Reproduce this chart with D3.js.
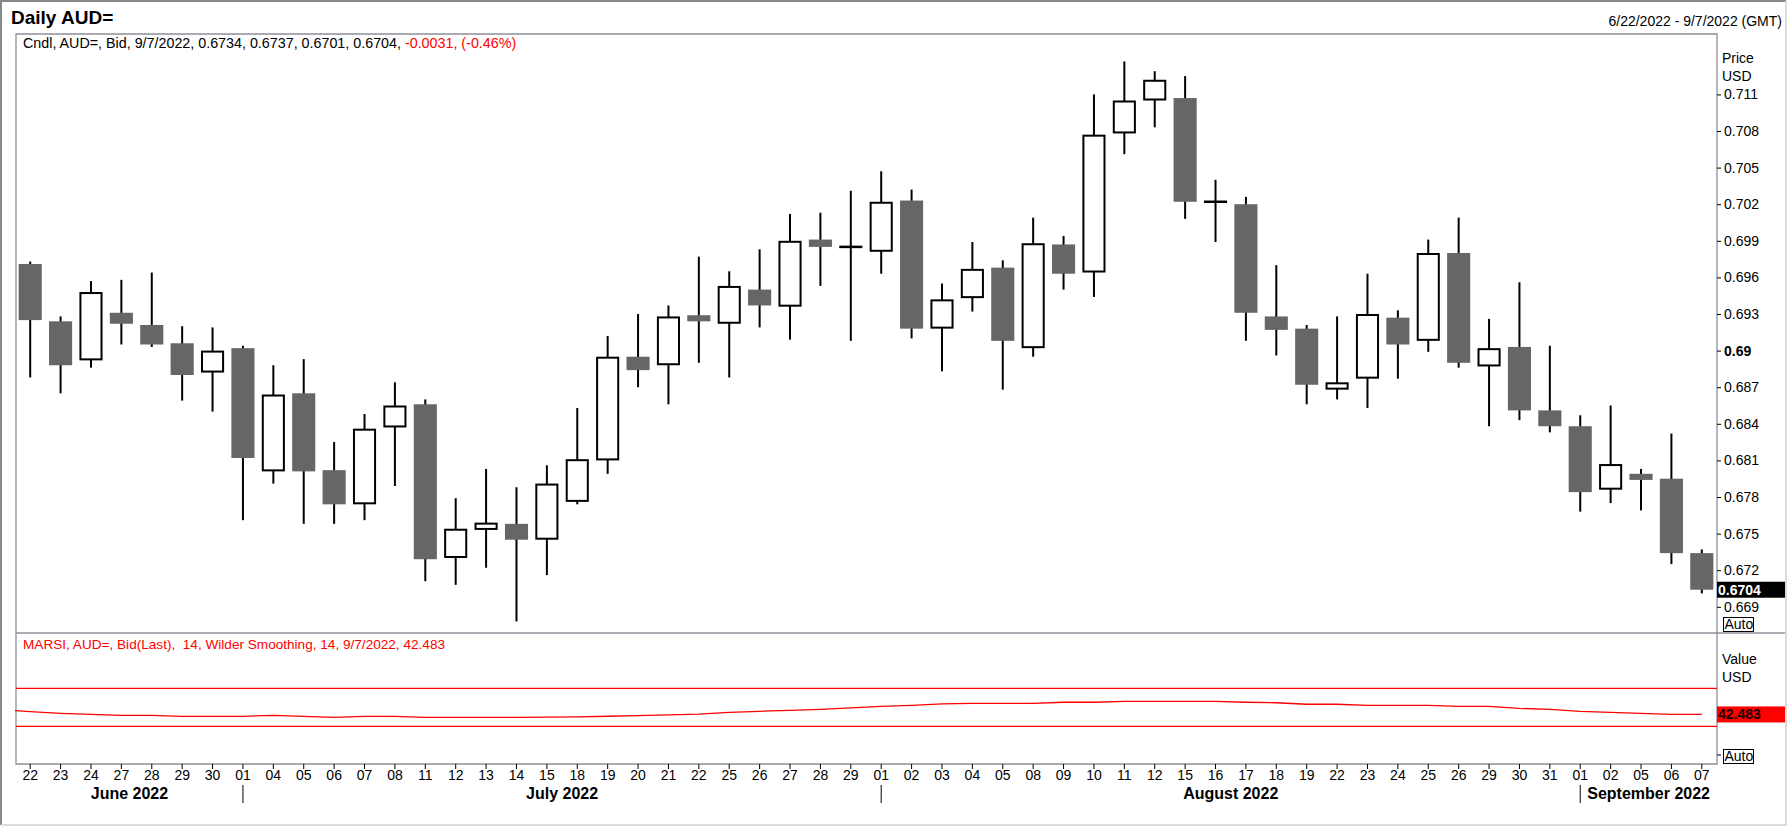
<!DOCTYPE html>
<html>
<head>
<meta charset="utf-8">
<script src="https://cdn.jsdelivr.net/npm/d3@7"></script>
<style>
  html, body { margin: 0; padding: 0; background: #fff; }
  svg { display: block; font-family: Arial, "Liberation Sans", sans-serif; }
</style>
</head>
<body>
<svg id="chart" width="1788" height="827"></svg>
<script>
// trading days shown on the chart
const dates = [
  "2022-06-22", "2022-06-23", "2022-06-24", "2022-06-27", "2022-06-28", "2022-06-29", "2022-06-30",
  "2022-07-01", "2022-07-04", "2022-07-05", "2022-07-06", "2022-07-07", "2022-07-08", "2022-07-11",
  "2022-07-12", "2022-07-13", "2022-07-14", "2022-07-15", "2022-07-18", "2022-07-19", "2022-07-20",
  "2022-07-21", "2022-07-22", "2022-07-25", "2022-07-26", "2022-07-27", "2022-07-28", "2022-07-29",
  "2022-08-01", "2022-08-02", "2022-08-03", "2022-08-04", "2022-08-05", "2022-08-08", "2022-08-09",
  "2022-08-10", "2022-08-11", "2022-08-12", "2022-08-15", "2022-08-16", "2022-08-17", "2022-08-18",
  "2022-08-19", "2022-08-22", "2022-08-23", "2022-08-24", "2022-08-25", "2022-08-26", "2022-08-29",
  "2022-08-30", "2022-08-31", "2022-09-01", "2022-09-02", "2022-09-05", "2022-09-06", "2022-09-07"
];
const opens = [
  0.6971, 0.6924, 0.6892, 0.6931, 0.6921, 0.6906, 0.6882,
  0.6902, 0.6801, 0.6865, 0.6802, 0.6774, 0.6837, 0.6856,
  0.6730, 0.6753, 0.6758, 0.6745, 0.6776, 0.6810, 0.6895,
  0.6888, 0.6929, 0.6922, 0.6950, 0.6936, 0.6991, 0.6985,
  0.6981, 0.7023, 0.6918, 0.6943, 0.6968, 0.6902, 0.6987,
  0.6964, 0.7078, 0.7105, 0.7107, 0.7022, 0.7020, 0.6928,
  0.6918, 0.6868, 0.6877, 0.6927, 0.6908, 0.6980, 0.6887,
  0.6903, 0.6851, 0.6838, 0.6786, 0.6799, 0.6795, 0.6734
];
const highs = [
  0.6973, 0.6928, 0.6957, 0.6958, 0.6964, 0.6920, 0.6919,
  0.6904, 0.6888, 0.6893, 0.6825, 0.6848, 0.6874, 0.6860,
  0.6779, 0.6803, 0.6788, 0.6806, 0.6853, 0.6912, 0.6930,
  0.6937, 0.6977, 0.6965, 0.6983, 0.7012, 0.7013, 0.7031,
  0.7047, 0.7032, 0.6955, 0.6989, 0.6974, 0.7009, 0.6994,
  0.7110, 0.7137, 0.7129, 0.7125, 0.7040, 0.7026, 0.6970,
  0.6921, 0.6928, 0.6963, 0.6933, 0.6991, 0.7009, 0.6926,
  0.6956, 0.6904, 0.6847, 0.6855, 0.6803, 0.6832, 0.6737
];
const lows = [
  0.6878, 0.6865, 0.6886, 0.6905, 0.6903, 0.6859, 0.6850,
  0.6761, 0.6791, 0.6758, 0.6758, 0.6761, 0.6789, 0.6711,
  0.6708, 0.6722, 0.6678, 0.6716, 0.6774, 0.6799, 0.6870,
  0.6856, 0.6890, 0.6878, 0.6919, 0.6909, 0.6953, 0.6908,
  0.6963, 0.6910, 0.6883, 0.6932, 0.6868, 0.6895, 0.6950,
  0.6944, 0.7061, 0.7083, 0.7008, 0.6989, 0.6908, 0.6896,
  0.6856, 0.6860, 0.6853, 0.6877, 0.6899, 0.6886, 0.6838,
  0.6843, 0.6833, 0.6768, 0.6775, 0.6769, 0.6725, 0.6701
];
const closes = [
  0.6925, 0.6888, 0.6948, 0.6922, 0.6905, 0.6880, 0.6900,
  0.6812, 0.6864, 0.6801, 0.6774, 0.6836, 0.6855, 0.6729,
  0.6754, 0.6759, 0.6745, 0.6791, 0.6811, 0.6895, 0.6884,
  0.6928, 0.6924, 0.6953, 0.6937, 0.6990, 0.6985, 0.6985,
  0.7022, 0.6918, 0.6942, 0.6967, 0.6908, 0.6988, 0.6963,
  0.7077, 0.7105, 0.7122, 0.7022, 0.7022, 0.6931, 0.6917,
  0.6872, 0.6874, 0.6930, 0.6905, 0.6980, 0.6890, 0.6902,
  0.6851, 0.6838, 0.6784, 0.6807, 0.6794, 0.6734, 0.6704
];
// smoothed RSI (MARSI 14, Wilder)
const marsi = [
  45.5, 43.7, 42.6, 41.6, 41.6, 40.5, 40.5,
  40.5, 41.6, 40.5, 39.5, 40.5, 40.5, 39.5,
  39.5, 39.5, 39.5, 39.6, 40.0, 40.6, 41.3,
  42.1, 42.9, 44.7, 45.8, 46.8, 47.9, 49.5,
  51.0, 52.1, 53.5, 54.2, 54.2, 54.2, 55.3,
  55.3, 56.3, 56.3, 56.3, 56.3, 55.3, 54.8,
  53.2, 53.2, 52.1, 52.1, 52.1, 51.0, 51.0,
  48.9, 47.9, 45.8, 44.7, 43.7, 42.6, 42.483
];
const rsiLevels = [70, 30];
const priceTicks = [
  0.669, 0.672, 0.675, 0.678, 0.681, 0.684, 0.687, 0.69,
  0.693, 0.696, 0.699, 0.702, 0.705, 0.708, 0.711
];
const lastPrice = 0.6704;
const lastRsi = 42.483;

const svg = d3.select("#chart");
const W = 1788, H = 827;
const plotL = 16, plotR = 1717, plotT = 34, priceB = 633, rsiB = 764;
const frameColor = "#8f8f9a";
const bearColor = "#666666";
const red = "#ff0000";
const font = "Arial, 'Liberation Sans', sans-serif";

const x = d3.scaleBand().domain(dates).range([15, plotR]);
const cx = d => x(d) + x.bandwidth() / 2;
const bodyW = x.bandwidth() * 0.76;
const priceY = d3.scaleLinear().domain([0.669, 0.711]).range([606.8, 94.4]);
const rsiY = d3.scaleLinear().domain([30, 70]).range([726.3, 688.3]);

// outer frame, sunken look
svg.append("path")
  .attr("d", `M1,${H - 2}V1H${W - 2}`)
  .attr("fill", "none").attr("stroke", "#888").attr("stroke-width", 2);
svg.append("path")
  .attr("d", `M${W - 2},1V${H - 2}H1`)
  .attr("fill", "none").attr("stroke", "#dcdcdc").attr("stroke-width", 2);

// title + range
svg.append("text")
  .attr("x", 11).attr("y", 23.5)
  .style("font-size", "19px").style("font-weight", "bold")
  .text("Daily AUD=");
svg.append("text")
  .attr("x", 1782).attr("y", 26)
  .attr("text-anchor", "end")
  .style("font-size", "14px")
  .text("6/22/2022 - 9/7/2022 (GMT)");

// panel borders
const borders = svg.append("g").attr("stroke", frameColor).attr("stroke-width", 1.3).attr("fill", "none");
borders.append("path").attr("d", `M${plotL},${rsiB}V${plotT}H${plotR}V${rsiB}Z`);
borders.append("line").attr("x1", plotL).attr("x2", W - 3).attr("y1", priceB).attr("y2", priceB);

// ---- price panel
const candles = svg.append("g");
dates.forEach((d, i) => {
  const o = opens[i], c = closes[i], c0 = cx(d);
  candles.append("line")
    .attr("x1", c0).attr("x2", c0)
    .attr("y1", priceY(highs[i])).attr("y2", priceY(lows[i]))
    .attr("stroke", "#000").attr("stroke-width", 2);
  if (o === c) {
    candles.append("line")
      .attr("x1", c0 - bodyW / 2).attr("x2", c0 + bodyW / 2)
      .attr("y1", priceY(o)).attr("y2", priceY(o))
      .attr("stroke", "#000").attr("stroke-width", 2.5);
  } else if (c > o) {
    candles.append("rect")
      .attr("x", c0 - bodyW / 2 + 1)
      .attr("y", priceY(c) + 1)
      .attr("width", bodyW - 2)
      .attr("height", Math.max(0.5, priceY(o) - priceY(c) - 2))
      .attr("fill", "#fff").attr("stroke", "#000").attr("stroke-width", 2);
  } else {
    candles.append("rect")
      .attr("x", c0 - bodyW / 2)
      .attr("y", priceY(o))
      .attr("width", bodyW)
      .attr("height", priceY(c) - priceY(o))
      .attr("fill", bearColor);
  }
});

const legend = svg.append("text").attr("x", 23).attr("y", 47.5).style("font-size", "14.3px");
legend.append("tspan").text("Cndl, AUD=, Bid, 9/7/2022, 0.6734, 0.6737, 0.6701, 0.6704, ");
legend.append("tspan").attr("fill", red).text("-0.0031, (-0.46%)");

// price axis
const yAxis = svg.append("g")
  .attr("transform", `translate(${plotR},0)`)
  .call(d3.axisRight(priceY).tickValues(priceTicks).tickSize(4).tickPadding(3)
    .tickFormat(d => d === 0.69 ? "0.69" : d3.format(".3f")(d)));
yAxis.select(".domain").remove();
yAxis.selectAll("text")
  .style("font-size", "14px").style("font-family", font)
  .style("font-weight", d => d === 0.69 ? "bold" : "normal");
svg.append("text").attr("x", 1722).attr("y", 63).style("font-size", "14px").text("Price");
svg.append("text").attr("x", 1722).attr("y", 81).style("font-size", "14px").text("USD");

svg.append("rect")
  .attr("x", plotR).attr("y", priceY(lastPrice) - 8)
  .attr("width", 68).attr("height", 16).attr("fill", "#000");
svg.append("text")
  .attr("x", plotR + 1).attr("y", priceY(lastPrice) + 5)
  .attr("fill", "#fff").style("font-size", "14px").style("font-weight", "bold")
  .text(lastPrice.toFixed(4));

function autoBox(y) {
  svg.append("rect").attr("x", 1723.5).attr("y", y + 0.5).attr("width", 30).attr("height", 14)
    .attr("fill", "#fff").attr("stroke", "#000");
  svg.append("text").attr("x", 1724.5).attr("y", y + 12).style("font-size", "14px").text("Auto");
}
autoBox(617);

// ---- MARSI panel
svg.append("text").attr("x", 23).attr("y", 649).attr("fill", red).style("font-size", "13.6px")
  .style("white-space", "pre")
  .text("MARSI, AUD=, Bid(Last),  14, Wilder Smoothing, 14, 9/7/2022, 42.483");

svg.append("g").selectAll("line").data(rsiLevels).join("line")
  .attr("x1", plotL).attr("x2", plotR)
  .attr("y1", d => rsiY(d)).attr("y2", d => rsiY(d))
  .attr("stroke", red).attr("stroke-width", 1.3);

const rsiPts = dates.map((d, i) => [cx(d), rsiY(marsi[i])]);
rsiPts.unshift([x(dates[0]), rsiY(marsi[0]) - 1]);
svg.append("path")
  .attr("d", d3.line()(rsiPts))
  .attr("fill", "none").attr("stroke", red).attr("stroke-width", 1.3);

svg.append("text").attr("x", 1722).attr("y", 664).style("font-size", "14px").text("Value");
svg.append("text").attr("x", 1722).attr("y", 682).style("font-size", "14px").text("USD");
svg.append("rect")
  .attr("x", plotR).attr("y", rsiY(lastRsi) - 8)
  .attr("width", 68).attr("height", 16).attr("fill", red);
svg.append("text")
  .attr("x", plotR + 1).attr("y", rsiY(lastRsi) + 5)
  .attr("fill", "#1a0000").style("font-size", "14px").style("font-weight", "bold")
  .text(lastRsi.toFixed(3));
svg.append("line").attr("x1", plotR).attr("x2", plotR + 4).attr("y1", 755).attr("y2", 755).attr("stroke", "#000");
autoBox(749);

// ---- date axis
const parse = d3.timeParse("%Y-%m-%d");
const xAxis = svg.append("g")
  .attr("transform", `translate(0,${rsiB})`)
  .call(d3.axisBottom(x).tickSize(5).tickPadding(1).tickFormat(d => d.slice(8)));
xAxis.select(".domain").remove();
xAxis.selectAll("text").style("font-size", "14px").style("font-family", font);

const months = d3.groups(dates, d => d.slice(0, 7));
const monthFmt = d3.timeFormat("%B %Y");
months.forEach(([m, ds], i) => {
  const x0 = i === 0 ? plotL : cx(ds[0]);
  const x1 = i === months.length - 1 ? plotR : cx(months[i + 1][1][0]);
  if (i > 0) {
    svg.append("line").attr("x1", x0).attr("x2", x0).attr("y1", 785).attr("y2", 803)
      .attr("stroke", "#000");
  }
  svg.append("text")
    .attr("x", (x0 + x1) / 2).attr("y", 799)
    .attr("text-anchor", "middle")
    .style("font-size", "16px").style("font-weight", "bold")
    .text(monthFmt(parse(ds[0])));
});
</script>
</body>
</html>
